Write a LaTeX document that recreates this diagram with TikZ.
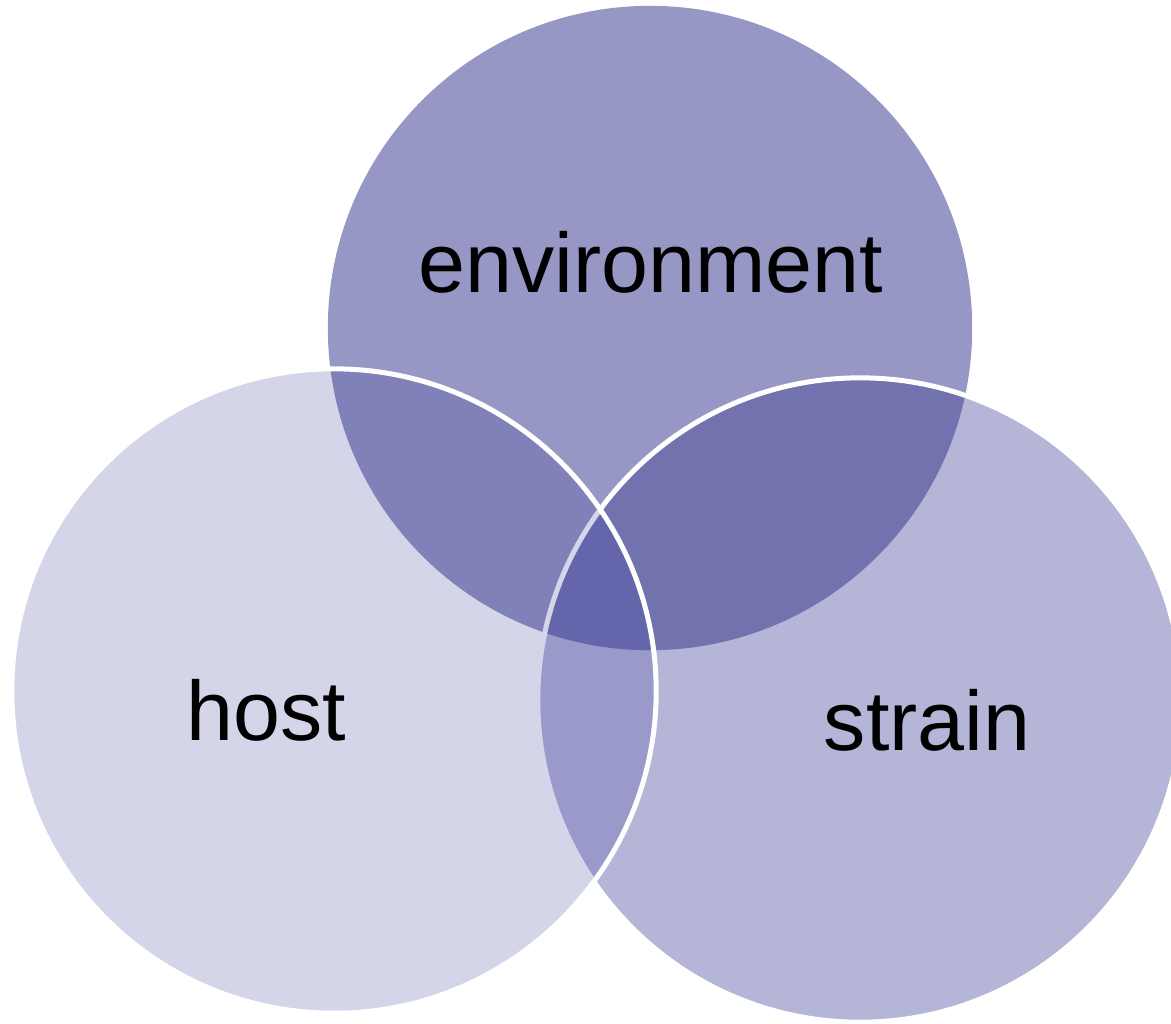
\documentclass[tikz,border=0pt]{standalone}
\usepackage{fontspec}
\setmainfont{Liberation Sans}

\definecolor{envcol}{HTML}{9797C5}
\definecolor{hostcol}{HTML}{D5D5EA}
\definecolor{straincol}{HTML}{B5B5D8}
\definecolor{envhostcol}{HTML}{8181B9}
\definecolor{envstraincol}{HTML}{7272AF}
\definecolor{hoststraincol}{HTML}{9A9ACA}
\definecolor{triplecol}{HTML}{6565AB}

\tikzstyle{ring}=[draw=white,line width=0.05cm]
\tikzstyle{setname}=[font=\fontsize{24pt}{29pt}\selectfont,anchor=base,inner sep=0pt]

\newcommand{\vennr}{3.22cm}

\begin{document}
\begin{tikzpicture}[x=0.01cm,y=-0.01cm]

   \useasboundingbox (0,0) rectangle (1171,1023);

   \coordinate (envc) at (650,328);
   \coordinate (hostc) at (334,691);
   \coordinate (strainc) at (860,700);

   % Environment circle

   \fill[envcol] (envc) circle (\vennr);

   % Strain circle

   \fill[straincol] (strainc) circle (\vennr);
   \begin{scope}
      \clip (envc) circle (\vennr);
      \fill[envstraincol] (strainc) circle (\vennr);
   \end{scope}
   \draw[ring] (strainc) circle (\vennr);

   % Host circle

   \fill[hostcol] (hostc) circle (\vennr);
   \begin{scope}
      \clip (hostc) circle (\vennr);
      \begin{scope}
         \clip (strainc) circle (\vennr);
         \fill[hoststraincol] (hostc) circle (\vennr);
      \end{scope}
      \begin{scope}
         \clip (envc) circle (\vennr);
         \fill[envhostcol] (hostc) circle (\vennr);
         \clip (strainc) circle (\vennr);
         \fill[triplecol] (hostc) circle (\vennr);
      \end{scope}
      \draw[ring,draw=hostcol] (strainc) circle (\vennr);
   \end{scope}
   \draw[ring] (hostc) circle (\vennr);

   % Labels

   \node[setname] (envlabel) at (651,292) {environment};
   \node[setname] (hostlabel) at (266,740) {host};
   \node[setname] (strainlabel) at (927,750) {strain};

\end{tikzpicture}
\end{document}
